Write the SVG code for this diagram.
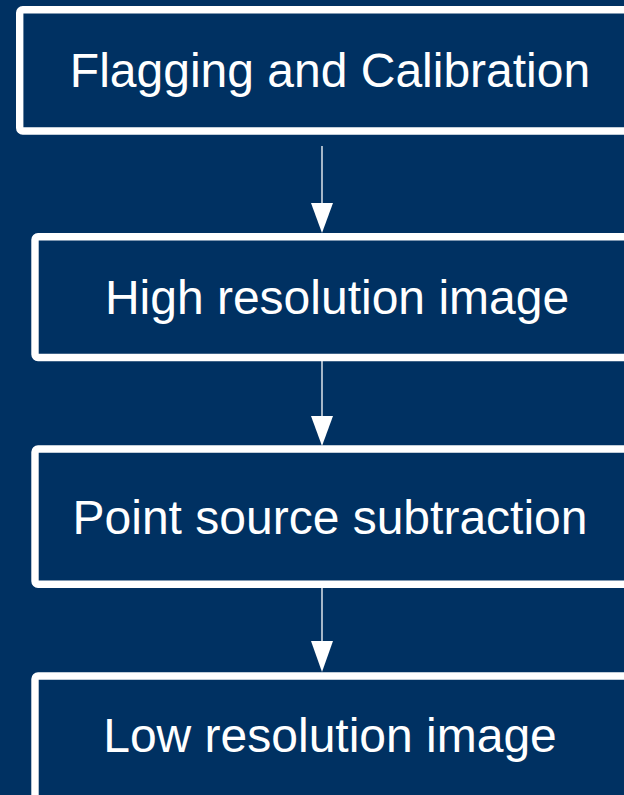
<svg xmlns="http://www.w3.org/2000/svg" width="624" height="795" viewBox="0 0 624 795">
<style>
.box{fill:#003162;stroke:#ffffff;stroke-width:7.4}
.lbl{fill:#ffffff;font-family:"Liberation Sans",Arial,sans-serif;font-size:48px;text-anchor:middle}
.conn{stroke:#ffffff;stroke-width:1.3;fill:none}
.head{fill:#ffffff}
</style>
<rect x="0" y="0" width="624" height="795" fill="#003162"/>
<g id="node1">
<rect class="box" x="19.7" y="9.7" width="640" height="121.3" rx="3"/>
<text class="lbl" x="330" y="87">Flagging and Calibration</text>
</g>
<g id="node2">
<rect class="box" x="35" y="236.7" width="640" height="120.8" rx="3"/>
<text class="lbl" x="337" y="314">High resolution image</text>
</g>
<g id="node3">
<rect class="box" x="35" y="449" width="640" height="135.3" rx="3"/>
<text class="lbl" x="330" y="534">Point source subtraction</text>
</g>
<g id="node4">
<rect class="box" x="35" y="676" width="640" height="200" rx="3"/>
<text class="lbl" x="330" y="752">Low resolution image</text>
</g>
<g id="connectors">
<line class="conn" x1="322" y1="146" x2="322" y2="205"/>
<polygon class="head" points="311,203 333,203 322,233"/>
<line class="conn" x1="322" y1="361" x2="322" y2="418"/>
<polygon class="head" points="311,416 333,416 322,446"/>
<line class="conn" x1="322" y1="588" x2="322" y2="643"/>
<polygon class="head" points="311,641 333,641 322,672"/>
</g>
</svg>
